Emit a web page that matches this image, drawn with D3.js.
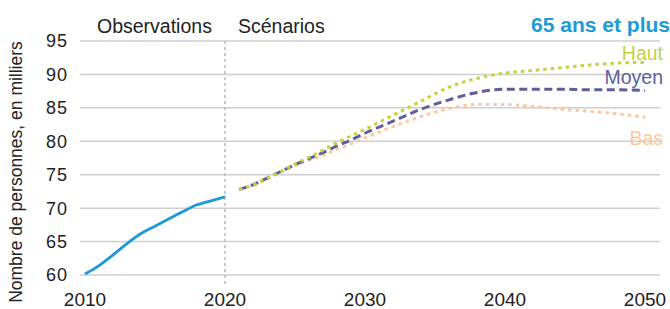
<!DOCTYPE html>
<html>
<head>
<meta charset="utf-8">
<script src="https://cdn.jsdelivr.net/npm/d3@7"></script>
<style>
  body { margin: 0; background: #fff; }
  text { font-family: "Liberation Sans", Arial, sans-serif; fill: #222; }
</style>
</head>
<body>
<div id="chart"></div>
<script>
// observations (blue)
var obsYears = [2010, 2011, 2012, 2013, 2014, 2015, 2016, 2017, 2018, 2019, 2020];
var obsValues = [60.15, 61.4, 63.0, 64.7, 66.2, 67.3, 68.4, 69.5, 70.5, 71.1, 71.7];

// scenarios
var scenYears = [2021, 2022, 2023, 2024, 2025, 2026, 2027, 2028, 2029, 2030, 2032, 2034, 2036, 2038, 2040, 2042, 2044, 2046, 2048, 2050];
var hautValues = [72.8, 73.5, 74.5, 75.5, 76.6, 77.6, 78.7, 79.8, 80.8, 81.8, 83.9, 86.0, 88.1, 89.4, 90.2, 90.6, 91.0, 91.4, 91.7, 91.8];
var moyenValues = [72.8, 73.5, 74.5, 75.5, 76.5, 77.4, 78.3, 79.3, 80.2, 81.2, 83.0, 84.8, 86.2, 87.3, 87.8, 87.8, 87.8, 87.7, 87.7, 87.6];
var basValues = [72.8, 73.4, 74.4, 75.4, 76.4, 77.2, 77.9, 78.8, 79.6, 80.5, 82.2, 83.7, 84.9, 85.5, 85.5, 85.2, 84.8, 84.5, 84.1, 83.6];

var yTicks = [60, 65, 70, 75, 80, 85, 90, 95];
var xTicks = [2010, 2020, 2030, 2040, 2050];

var width = 670, height = 309;

var svg = d3.select("#chart").append("svg")
    .attr("width", width)
    .attr("height", height);

var x = d3.scaleLinear().domain([2010, 2050]).range([85, 645]);
var y = d3.scaleLinear().domain([60, 95]).range([275, 41]);

// gridlines
svg.append("g")
    .selectAll("line")
    .data(yTicks)
    .enter()
        .append("line")
        .attr("x1", 80)
        .attr("x2", 660)
        .attr("y1", function(d) { return y(d); })
        .attr("y2", function(d) { return y(d); })
        .attr("stroke", "#cfcfcf")
        .attr("stroke-width", 1.5);

// y tick labels
svg.append("g")
    .selectAll("text")
    .data(yTicks)
    .enter()
        .append("text")
        .attr("x", 68)
        .attr("y", function(d) { return y(d); })
        .attr("dy", "0.36em")
        .attr("text-anchor", "end")
        .style("font-size", "18px")
        .style("letter-spacing", "1px")
        .text(function(d) { return d; });

// x tick labels
svg.append("g")
    .selectAll("text")
    .data(xTicks)
    .enter()
        .append("text")
        .attr("x", function(d) { return x(d); })
        .attr("y", 306)
        .attr("text-anchor", "middle")
        .style("font-size", "19px")
        .text(function(d) { return d; });

// y axis title
svg.append("text")
    .attr("transform", "translate(22," + 172 + ") rotate(-90)")
    .attr("text-anchor", "middle")
    .style("font-size", "17.5px")
    .text("Nombre de personnes, en milliers");

// separator between observations and scenarios
svg.append("line")
    .attr("x1", x(2020))
    .attr("x2", x(2020))
    .attr("y1", y(95))
    .attr("y2", 285)
    .attr("stroke", "#bbbbbb")
    .attr("stroke-width", 1.5)
    .attr("stroke-dasharray", "3,3");

svg.append("text")
    .attr("x", 97)
    .attr("y", 33)
    .style("font-size", "19.5px")
    .text("Observations");

svg.append("text")
    .attr("x", 238)
    .attr("y", 33)
    .style("font-size", "19.5px")
    .text("Scénarios");

var line = d3.line()
    .x(function(d) { return x(d[0]); })
    .y(function(d) { return y(d[1]); })
    .curve(d3.curveMonotoneX);

svg.append("path")
    .datum(d3.zip(obsYears, obsValues))
    .attr("d", line)
    .attr("fill", "none")
    .attr("stroke", "#1b9ad6")
    .attr("stroke-width", 2.8);

var scenarios = [
    {name: "Bas", values: basValues, color: "#fbc89f", dash: "3.5,4", labelY: 145},
    {name: "Moyen", values: moyenValues, color: "#5d5f9c", dash: "8,4.5", labelY: 84},
    {name: "Haut", values: hautValues, color: "#c4d33c", dash: "3.5,4", labelY: 60}
];

scenarios.forEach(function(s) {
    svg.append("path")
        .datum(d3.zip(scenYears, s.values))
        .attr("d", line)
        .attr("fill", "none")
        .attr("stroke", s.color)
        .attr("stroke-width", 3)
        .attr("stroke-dasharray", s.dash);

    svg.append("text")
        .attr("x", 663)
        .attr("y", s.labelY)
        .attr("text-anchor", "end")
        .style("font-size", "19.5px")
        .style("fill", s.color)
        .text(s.name);
});

svg.append("text")
    .attr("x", 670)
    .attr("y", 32)
    .attr("text-anchor", "end")
    .style("font-size", "21px")
    .style("font-weight", "bold")
    .style("fill", "#1b9ad6")
    .text("65 ans et plus");
</script>
</body>
</html>
